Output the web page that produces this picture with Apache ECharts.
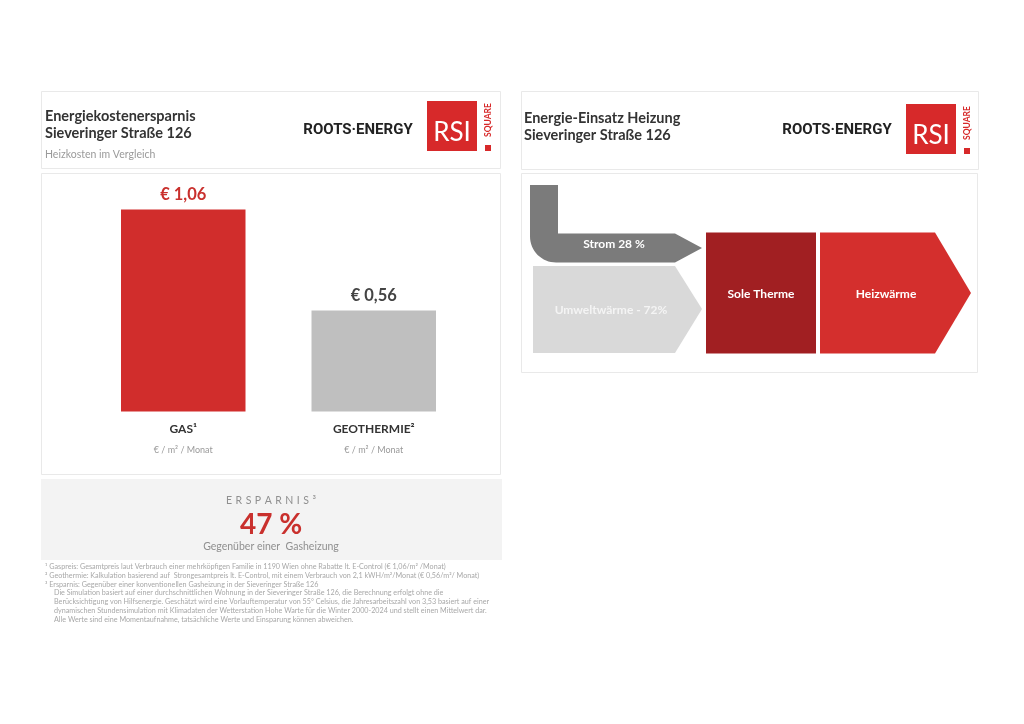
<!DOCTYPE html>
<html>
<head>
<meta charset="utf-8">
<script src="https://cdn.jsdelivr.net/npm/echarts@6/dist/echarts.min.js"></script>
<style>
html,body{margin:0;padding:0;background:#fff;}
#main{width:1024px;height:724px;}
</style>
</head>
<body>
<div id="main"></div>
<script>
// ---------- data ----------
const categories = ['GAS¹', 'GEOTHERMIE²'];
const costValues = [1.06, 0.56];
const unitLabel = '€ / m² / Monat';
const barColors = ['#d12d2c', '#bfbfbf'];
const valueLabelColors = ['#c9302d', '#444444'];
const leftTitle = ['Energiekostenersparnis', 'Sieveringer Straße 126'];
const leftSubtitle = 'Heizkosten im Vergleich';
const rightTitle = ['Energie-Einsatz Heizung', 'Sieveringer Straße 126'];
const brand = 'ROOTS·ENERGY';
const flowLabels = ['Strom 28 %', 'Umweltwärme - 72%', 'Sole Therme', 'Heizwärme'];
const savingsTitle = 'ERSPARNIS³';
const savingsValue = '47 %';
const savingsNote = 'Gegenüber einer  Gasheizung';
const footnotes = [
  '¹ Gaspreis: Gesamtpreis laut Verbrauch einer mehrköpfigen Familie in 1190 Wien ohne Rabatte lt. E-Control (€ 1,06/m² /Monat)',
  '² Geothermie: Kalkulation basierend auf  Strongesamtpreis lt. E-Control, mit einem Verbrauch von 2,1 kWH/m²/Monat (€ 0,56/m²/ Monat)',
  '³ Ersparnis: Gegenüber einer konventionellen Gasheizung in der Sieveringer Straße 126',
  'Die Simulation basiert auf einer durchschnittlichen Wohnung in der Sieveringer Straße 126, die Berechnung erfolgt ohne die',
  'Berücksichtigung von Hilfsenergie. Geschätzt wird eine Vorlauftemperatur von 55° Celsius, die Jahresarbeitszahl von 3,53 basiert auf einer',
  'dynamischen Stundensimulation mit Klimadaten der Wetterstation Hohe Warte für die Winter 2000-2024 und stellt einen Mittelwert dar.',
  'Alle Werte sind eine Momentaufnahme, tatsächliche Werte und Einsparung können abweichen.'
];

// ---------- chart ----------
const FONT = 'Lato, "Noto Sans", sans-serif';
const chart = echarts.init(document.getElementById('main'), null, {renderer: 'canvas'});

function logo(x, y) {
  return [
    {type: 'rect', shape: {x: x, y: y, width: 50, height: 50}, style: {fill: '#d7292a'}},
    {type: 'text', x: x + 25, y: y + 32, style: {text: 'RSI', fill: '#fff', font: '26px ' + FONT, align: 'center', verticalAlign: 'middle'}},
    {type: 'text', x: x + 61, y: y + 19, rotation: Math.PI / 2, style: {text: 'SQUARE', fill: '#d7292a', font: 'bold 8.5px ' + FONT, align: 'center', verticalAlign: 'middle'}},
    {type: 'rect', shape: {x: x + 58, y: y + 44, width: 6, height: 6}, style: {fill: '#d7292a'}}
  ];
}

// Strom shape outline (rounded outer corner approximated by arc points)
function stromPoints() {
  const pts = [[530, 185], [558, 185], [558, 233.5], [675, 233.5], [702, 248], [675, 262.5], [556, 262.5]];
  const cx = 556, cy = 236.5, r = 26;
  for (let k = 1; k < 16; k++) {
    const a = Math.PI / 2 + (Math.PI / 2) * k / 16;
    pts.push([cx + r * Math.cos(a), cy + r * Math.sin(a)]);
  }
  pts.push([530, 236.5]);
  return pts;
}

const border = {fill: '#fff', stroke: '#e9e9e9', lineWidth: 1};
const graphics = [
  // left header
  {type: 'rect', shape: {x: 41.5, y: 91.5, width: 459, height: 77}, style: border, z: -1},
  {type: 'text', x: 45, y: 116.5, style: {text: leftTitle[0], fill: '#333', font: 'bold 14.5px ' + FONT, verticalAlign: 'middle'}},
  {type: 'text', x: 45, y: 133.5, style: {text: leftTitle[1], fill: '#333', font: 'bold 14.5px ' + FONT, verticalAlign: 'middle'}},
  {type: 'text', x: 45, y: 154.5, style: {text: leftSubtitle, fill: '#9a9a9a', font: '10.5px ' + FONT, verticalAlign: 'middle'}},
  {type: 'text', x: 358, y: 130, style: {text: brand, fill: '#222', font: 'bold 15px Roboto, sans-serif', align: 'center', verticalAlign: 'middle'}},
  ...logo(427, 101),
  // left chart frame
  {type: 'rect', shape: {x: 41.5, y: 173.5, width: 459, height: 301}, style: border, z: -1},
  // savings box
  {type: 'rect', shape: {x: 41, y: 479, width: 461, height: 81}, style: {fill: '#f3f3f3'}, z: -1},
  {type: 'text', x: 271, y: 501, style: {text: savingsTitle.split('').join('\u2004'), fill: '#8f8f8f', font: '10.5px ' + FONT, align: 'center', verticalAlign: 'middle'}},
  {type: 'text', x: 271, y: 525, style: {text: savingsValue, fill: '#c9302d', font: 'bold 28px ' + FONT, align: 'center', verticalAlign: 'middle'}},
  {type: 'text', x: 271, y: 546.5, style: {text: savingsNote, fill: '#8f8f8f', font: '10.5px ' + FONT, align: 'center', verticalAlign: 'middle'}},
  // right header
  {type: 'rect', shape: {x: 521.5, y: 91.5, width: 457, height: 78}, style: border, z: -1},
  {type: 'text', x: 524, y: 118.5, style: {text: rightTitle[0], fill: '#333', font: 'bold 14.5px ' + FONT, verticalAlign: 'middle'}},
  {type: 'text', x: 524, y: 135, style: {text: rightTitle[1], fill: '#333', font: 'bold 14.5px ' + FONT, verticalAlign: 'middle'}},
  {type: 'text', x: 837, y: 130.5, style: {text: brand, fill: '#222', font: 'bold 15px Roboto, sans-serif', align: 'center', verticalAlign: 'middle'}},
  ...logo(906, 104),
  // right diagram frame
  {type: 'rect', shape: {x: 521.5, y: 173.5, width: 456, height: 199}, style: border, z: -1},
  // Strom
  {type: 'polygon', shape: {points: stromPoints()}, style: {fill: '#7b7b7b'}},
  {type: 'text', x: 614, y: 244, style: {text: flowLabels[0], fill: '#fff', font: 'bold 12px ' + FONT, align: 'center', verticalAlign: 'middle'}},
  // Umweltwärme
  {type: 'polygon', shape: {points: [[533, 266], [675, 266], [702, 309], [675, 353], [533, 353]]}, style: {fill: '#d9d9d9'}},
  {type: 'text', x: 611, y: 310.5, style: {text: flowLabels[1], fill: '#f4f4f4', font: 'bold 12px ' + FONT, align: 'center', verticalAlign: 'middle'}},
  // Sole Therme
  {type: 'rect', shape: {x: 706, y: 232.5, width: 110, height: 121}, style: {fill: '#a11f22'}},
  {type: 'text', x: 761, y: 294, style: {text: flowLabels[2], fill: '#fff', font: 'bold 12px ' + FONT, align: 'center', verticalAlign: 'middle'}},
  // Heizwärme
  {type: 'polygon', shape: {points: [[820, 232.5], [935, 232.5], [971, 293], [935, 353.5], [820, 353.5]]}, style: {fill: '#d42f2d'}},
  {type: 'text', x: 886, y: 294, style: {text: flowLabels[3], fill: '#fff', font: 'bold 12px ' + FONT, align: 'center', verticalAlign: 'middle'}}
];

// footnotes
const footY0 = 566.5, footStep = 8.85;
footnotes.forEach((t, i) => {
  graphics.push({type: 'text', x: i < 3 ? 45 : 54, y: footY0 + i * footStep,
    style: {text: t, fill: '#a8a8a8', font: '7.2px ' + FONT, verticalAlign: 'middle'}});
});

chart.setOption({
  backgroundColor: '#fff',
  animation: false,
  textStyle: {fontFamily: FONT},
  grid: {left: 88, width: 381, top: 209.5, height: 202, containLabel: false},
  xAxis: {
    type: 'category',
    data: categories,
    axisLine: {show: false},
    axisTick: {show: false},
    axisLabel: {
      margin: 8,
      formatter: v => '{a|' + v + '}\n{b|' + unitLabel + '}',
      rich: {
        a: {fontFamily: FONT, fontWeight: 'bold', fontSize: 12, color: '#333', lineHeight: 20},
        b: {fontFamily: FONT, fontSize: 9, color: '#9a9a9a', lineHeight: 22}
      }
    }
  },
  yAxis: {type: 'value', min: 0.06, max: 1.06, show: false, splitLine: {show: false}},
  series: [{
    type: 'bar',
    barWidth: 124.5,
    data: costValues.map((v, i) => ({
      value: v,
      itemStyle: {color: barColors[i]},
      label: {color: valueLabelColors[i]}
    })),
    label: {
      show: true,
      position: 'top',
      distance: 6,
      fontFamily: FONT,
      fontWeight: 'bold',
      fontSize: 16.5,
      formatter: p => '€ ' + p.value.toFixed(2).replace('.', ',')
    }
  }],
  graphic: graphics
});
</script>
</body>
</html>
